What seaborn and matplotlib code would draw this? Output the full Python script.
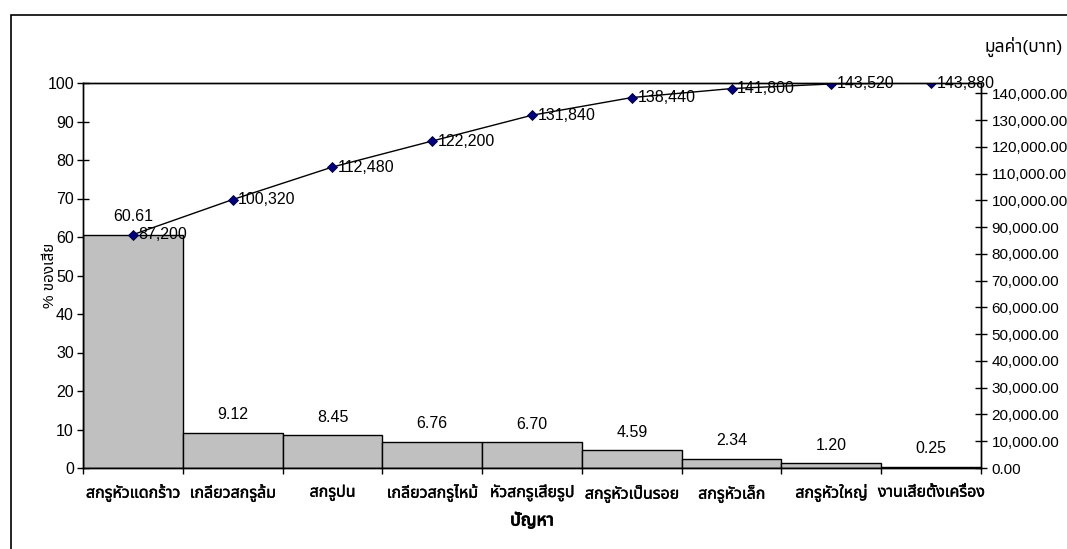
import matplotlib
matplotlib.use("Agg")
import matplotlib.pyplot as plt
import matplotlib.patheffects as pe
from matplotlib.patches import Rectangle
from matplotlib.ticker import FuncFormatter, FixedLocator
import numpy as np
import pandas as pd
import seaborn as sns

# Defect categories (Pareto order)
categories = ["สกรูหัวแดกร้าว", "เกลียวสกรูล้ม", "สกรูปน", "เกลียวสกรูไหม้",
              "หัวสกรูเสียรูป", "สกรูหัวเป็นรอย", "สกรูหัวเล็ก", "สกรูหัวใหญ่",
              "งานเสียตั้งเครื่อง"]
# Share of all defects, percent
defect_pct = [60.61, 9.12, 8.45, 6.76, 6.70, 4.59, 2.34, 1.20, 0.25]
# Cumulative loss value, baht
cumulative_baht = [87200, 100320, 112480, 122200, 131840, 138440, 141800, 143520, 143880]
value_ticks = list(range(0, 140001, 10000))
pct_ticks = list(range(0, 101, 10))

sns.set_style("white")
plt.rcParams["font.family"] = ["Liberation Sans", "Noto Sans Thai"]
plt.rcParams.update({
    "axes.linewidth": 1.0,
    "text.color": "black",
    "axes.labelcolor": "black",
    "xtick.color": "black",
    "ytick.color": "black",
})

df = pd.DataFrame({"cat": categories, "pct": defect_pct,
                   "cum": cumulative_baht, "pos": np.arange(len(categories))})

fig = plt.figure(figsize=(10.67, 5.49), dpi=100)
ax = fig.add_axes([83 / 1067, 1 - 468 / 549, (981 - 83) / 1067, (468 - 83) / 549])

sns.barplot(data=df, x="cat", y="pct", ax=ax, color="#C0C0C0", saturation=1,
            width=1.0, edgecolor="black", linewidth=1.0)
ax.set_xlim(-0.5, len(categories) - 0.5)
ax.set_ylim(0, 100)
ax.set_yticks(pct_ticks)

for p, v in zip(ax.patches, df["pct"]):
    ax.annotate(f"{v:.2f}", (p.get_x() + p.get_width() / 2, p.get_height()),
                xytext=(0, 13), textcoords="offset points",
                ha="center", va="center", fontsize=11.5)

# x ticks: labels at bar centres, tick marks at bar boundaries
ax.tick_params(axis="x", which="major", length=0, pad=12, labelsize=11.5)
ax.xaxis.set_minor_locator(FixedLocator(np.arange(-0.5, len(categories), 1.0)))
ax.tick_params(axis="x", which="minor", direction="out", length=4, width=1, bottom=True)
ax.tick_params(axis="y", direction="inout", length=9, width=1, labelsize=11.5, left=True, pad=2)
ax.set_xlabel("ปัญหา", fontsize=12.5, fontweight="bold", labelpad=6)
ax.xaxis.label.set_path_effects([pe.withStroke(linewidth=0.7, foreground="black")])
ax.set_ylabel("% ของเสีย", fontsize=11, labelpad=-7)
for lbl in ax.get_xticklabels():
    lbl.set_path_effects([pe.withStroke(linewidth=0.3, foreground="black")])

for s in ax.spines.values():
    s.set_color("black")
    s.set_visible(True)

ax2 = ax.twinx()
sns.lineplot(data=df, x="pos", y="cum", ax=ax2, color="black", linewidth=1.0,
             marker="D", markersize=5, markerfacecolor="#000080",
             markeredgecolor="#000033", markeredgewidth=0.6)
ax2.set_ylim(0, max(cumulative_baht))
ax2.set_yticks(value_ticks)
ax2.yaxis.set_major_formatter(FuncFormatter(lambda v, _: f"{v:,.2f}"))
ax2.tick_params(axis="y", direction="inout", length=9, width=1, labelsize=11, right=True, pad=3)
ax2.set_ylabel("")
ax2.set_xlabel("")
for s in ax2.spines.values():
    s.set_color("black")

for x, y in zip(df["pos"], df["cum"]):
    ax2.annotate(f"{y:,.0f}", (x, y), xytext=(4, 0), textcoords="offset points",
                 ha="left", va="center", fontsize=11.5)

fig.text(985 / 1067, 1 - 47 / 549, "มูลค่า(บาท)", ha="left", va="center", fontsize=12.5)

# outer chart frame
fig.patches.append(Rectangle((11 / 1067, -0.1), 1.2, 1.1 - 15 / 549,
                             transform=fig.transFigure, fill=False,
                             edgecolor="black", linewidth=1.2))

fig.savefig("out.png", dpi=100)
